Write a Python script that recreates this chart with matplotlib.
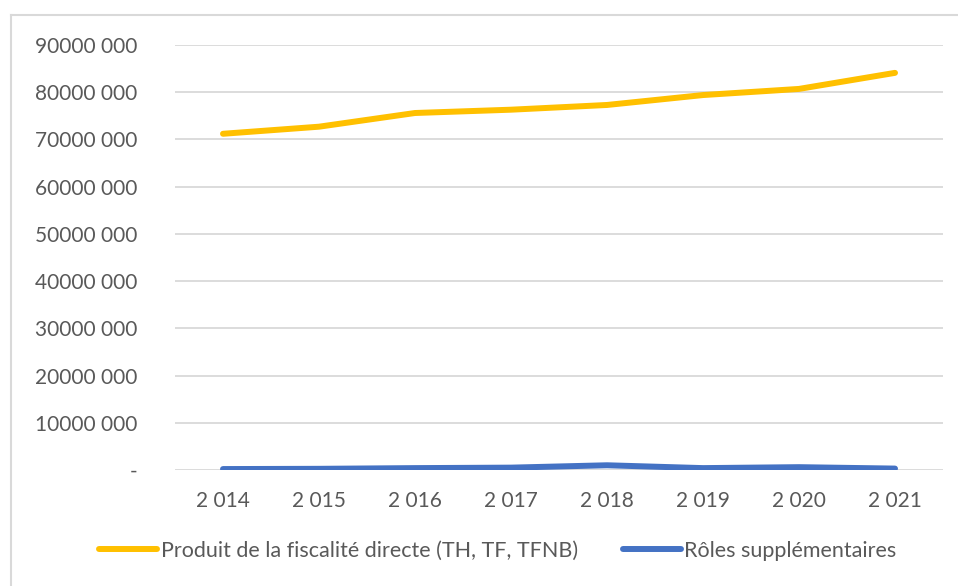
import matplotlib.pyplot as plt
from matplotlib.lines import Line2D
from matplotlib.ticker import FuncFormatter

plt.rcParams['font.family'] = ['Lato', 'DejaVu Sans']

years = [2014, 2015, 2016, 2017, 2018, 2019, 2020, 2021]
year_labels = ["2 014", "2 015", "2 016", "2 017", "2 018", "2 019", "2 020", "2 021"]
fiscalite = [71.2e6, 72.7e6, 75.6e6, 76.3e6, 77.3e6, 79.4e6, 80.7e6, 84.1e6]
roles_supp = [0.2e6, 0.25e6, 0.4e6, 0.5e6, 1.0e6, 0.4e6, 0.6e6, 0.3e6]

text_col = "#595959"
grid_col = "#D9D9D9"

fig = plt.figure(figsize=(9.58, 5.86), dpi=100)
ax = fig.add_axes([175 / 958, 116 / 586, (943 - 175) / 958, (470 - 45) / 586])

x = range(len(years))
ax.plot(x, fiscalite, color="#FFC000", lw=4.3, solid_capstyle="round",
        label="Produit de la fiscalité directe (TH, TF, TFNB)")
ax.plot(x, roles_supp, color="#4472C4", lw=4.3, solid_capstyle="round",
        label="Rôles supplémentaires")

ax.set_xlim(-0.5, len(years) - 0.5)
ax.set_ylim(0, 90e6)
ax.set_yticks([i * 10e6 for i in range(10)])


def fmt(v, pos):
    if v == 0:
        return "-"
    return f"{int(round(v / 1000))} 000"


ax.yaxis.set_major_formatter(FuncFormatter(fmt))
ax.set_xticks(list(x))
ax.set_xticklabels(year_labels)

ax.grid(axis="y", color=grid_col, lw=1.3)
ax.set_axisbelow(True)
for s in ax.spines.values():
    s.set_visible(False)
ax.tick_params(length=0, labelsize=15, colors=text_col)
ax.tick_params(axis="y", pad=27)
ax.tick_params(axis="x", pad=15)

# chart frame (top and left edges visible)
fig.add_artist(Line2D([11 / 958, 11 / 958], [0, 1 - 15 / 586], color=grid_col, lw=1.5))
fig.add_artist(Line2D([11 / 958, 1], [1 - 15 / 586, 1 - 15 / 586], color=grid_col, lw=1.5))

fig.legend(loc="center", bbox_to_anchor=(498 / 958, 1 - 551 / 586), ncol=2, frameon=False,
           fontsize=15.5, labelcolor=text_col, handlelength=2.7, handletextpad=0.15,
           columnspacing=2.1)

fig.savefig("out.png", dpi=100)
